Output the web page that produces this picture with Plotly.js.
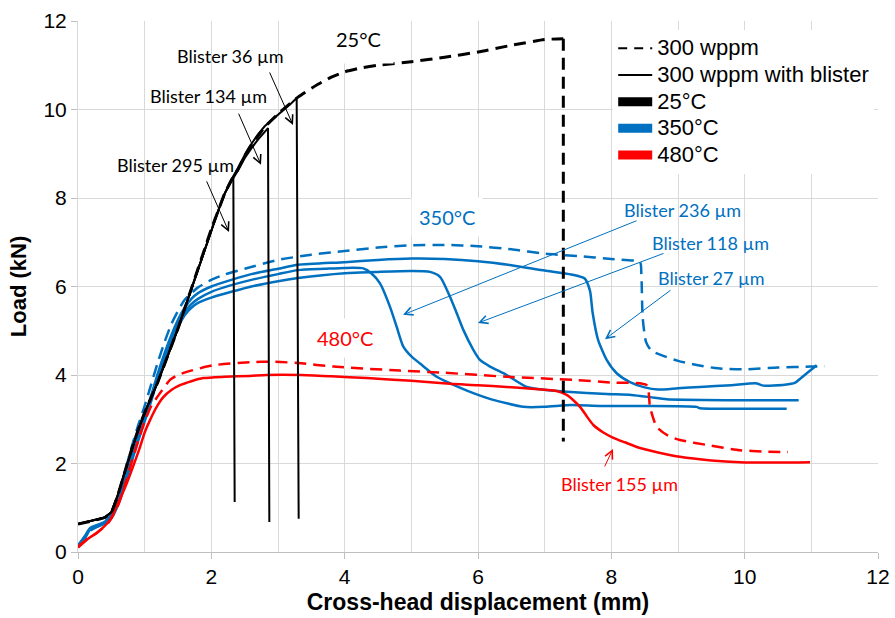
<!DOCTYPE html>
<html>
<head>
<meta charset="utf-8">
<script src="https://cdn.plot.ly/plotly-3.0.1.min.js"></script>
<style>html,body{margin:0;padding:0;background:#fff;}#chart{width:895px;height:618px;}</style>
</head>
<body>
<div id="chart"></div>
<script>
// ---- 25°C, 300 wppm (dashed) ----
const x25 = [0, 0.2, 0.4, 0.5, 0.6, 0.7, 0.8, 0.9, 1.0, 1.1, 1.2, 1.3, 1.4, 1.5, 1.6, 1.7, 1.8, 1.9, 2.0, 2.1, 2.2, 2.3, 2.4, 2.5, 2.6, 2.7, 2.8, 3.0, 3.3, 3.6, 3.8, 4.0, 4.25, 4.5, 5.0, 5.5, 6.0, 6.5, 7.0, 7.28];
const y25 = [0.63, 0.7, 0.78, 0.9, 1.3, 1.8, 2.3, 2.75, 3.15, 3.5, 3.85, 4.25, 4.65, 5.05, 5.5, 5.95, 6.4, 6.85, 7.3, 7.7, 8.1, 8.4, 8.65, 8.95, 9.2, 9.4, 9.6, 9.9, 10.28, 10.57, 10.73, 10.85, 10.94, 11.0, 11.08, 11.18, 11.3, 11.45, 11.58, 11.6];
const x25drop = [7.28, 7.28];
const y25drop = [11.6, 2.5];
// ---- 25°C with blister ----
const x25b295 = [0, 0.2, 0.4, 0.5, 0.6, 0.7, 0.8, 0.9, 1.0, 1.1, 1.2, 1.3, 1.4, 1.5, 1.6, 1.7, 1.8, 1.9, 2.0, 2.1, 2.2, 2.33, 2.35];
const y25b295 = [0.63, 0.7, 0.78, 0.9, 1.3, 1.8, 2.3, 2.75, 3.15, 3.5, 3.85, 4.25, 4.65, 5.05, 5.5, 5.95, 6.4, 6.85, 7.3, 7.7, 8.1, 8.47, 1.13];
const x25b134 = [0, 0.2, 0.4, 0.5, 0.6, 0.7, 0.8, 0.9, 1.0, 1.1, 1.2, 1.3, 1.4, 1.5, 1.6, 1.7, 1.8, 1.9, 2.0, 2.1, 2.2, 2.3, 2.4, 2.5, 2.6, 2.7, 2.85, 2.87];
const y25b134 = [0.63, 0.7, 0.78, 0.9, 1.3, 1.8, 2.3, 2.75, 3.15, 3.5, 3.85, 4.25, 4.65, 5.05, 5.5, 5.95, 6.4, 6.85, 7.3, 7.7, 8.1, 8.38, 8.62, 8.9, 9.12, 9.32, 9.58, 0.68];
const x25b36 = [0, 0.2, 0.4, 0.5, 0.6, 0.7, 0.8, 0.9, 1.0, 1.1, 1.2, 1.3, 1.4, 1.5, 1.6, 1.7, 1.8, 1.9, 2.0, 2.1, 2.2, 2.3, 2.4, 2.5, 2.6, 2.7, 2.8, 2.9, 3.0, 3.1, 3.2, 3.28, 3.31];
const y25b36 = [0.63, 0.7, 0.78, 0.9, 1.3, 1.8, 2.3, 2.75, 3.15, 3.5, 3.85, 4.25, 4.65, 5.05, 5.5, 5.95, 6.4, 6.85, 7.3, 7.7, 8.1, 8.42, 8.68, 8.97, 9.22, 9.44, 9.62, 9.75, 9.88, 10.0, 10.14, 10.26, 0.75];

// ---- 350°C, 300 wppm (dashed) ----
const x350 = [0, 0.1, 0.2, 0.35, 0.5, 0.6, 0.7, 0.8, 0.9, 1.0, 1.1, 1.2, 1.3, 1.4, 1.5, 1.6, 1.7, 1.8, 2.0, 2.2, 2.5, 3.0, 3.5, 4.0, 4.5, 5.0, 5.5, 6.0, 6.5, 7.0, 7.5, 8.0, 8.43, 8.45, 8.47, 8.52, 8.6, 8.8, 9.0, 9.3, 9.6, 10.0, 10.5, 11.0, 11.2];
const y350 = [0.15, 0.35, 0.5, 0.62, 0.85, 1.25, 1.8, 2.35, 2.85, 3.3, 3.8, 4.3, 4.75, 5.15, 5.45, 5.7, 5.85, 5.98, 6.15, 6.27, 6.4, 6.6, 6.72, 6.8, 6.88, 6.93, 6.94, 6.91, 6.84, 6.74, 6.69, 6.62, 6.55, 6.3, 5.3, 4.75, 4.55, 4.42, 4.32, 4.22, 4.15, 4.13, 4.17, 4.19, 4.2];
// ---- 350°C with blister ----
const x350b27 = [0, 0.1, 0.18, 0.3, 0.4, 0.5, 0.6, 0.7, 0.8, 0.9, 1.0, 1.1, 1.2, 1.3, 1.4, 1.5, 1.6, 1.7, 1.8, 2.0, 2.3, 2.6, 3.0, 3.3, 4.0, 4.5, 5.0, 5.5, 6.0, 6.5, 7.0, 7.4, 7.6, 7.68, 7.72, 7.8, 7.93, 8.08, 8.28, 8.5, 8.7, 9.0, 9.33, 9.8, 10.18, 10.28, 10.6, 10.75, 10.9, 11.08];
const y350b27 = [0.12, 0.35, 0.54, 0.62, 0.68, 0.82, 1.15, 1.62, 2.15, 2.62, 3.05, 3.55, 4.05, 4.5, 4.9, 5.25, 5.52, 5.72, 5.85, 6.0, 6.15, 6.28, 6.4, 6.49, 6.55, 6.6, 6.63, 6.62, 6.57, 6.48, 6.36, 6.27, 6.18, 5.9, 5.4, 4.8, 4.34, 4.04, 3.84, 3.72, 3.67, 3.7, 3.73, 3.77, 3.81, 3.76, 3.78, 3.82, 4.0, 4.22];
const x350b236 = [0, 0.1, 0.18, 0.3, 0.4, 0.5, 0.6, 0.7, 0.8, 0.9, 1.0, 1.1, 1.2, 1.3, 1.4, 1.5, 1.6, 1.7, 1.8, 2.0, 2.3, 2.6, 3.0, 3.3, 3.7, 4.0, 4.28, 4.4, 4.53, 4.68, 4.78, 4.88, 5.0, 5.13, 5.38, 5.6, 5.93, 6.2, 6.43, 6.68, 7.0, 7.4, 7.83, 8.5, 9.28, 9.33, 10.0, 10.63];
const y350b236 = [0.12, 0.33, 0.52, 0.6, 0.66, 0.8, 1.12, 1.58, 2.1, 2.58, 3.02, 3.5, 4.0, 4.45, 4.82, 5.15, 5.42, 5.6, 5.72, 5.88, 6.03, 6.15, 6.28, 6.37, 6.4, 6.42, 6.41, 6.3, 6.07, 5.54, 5.09, 4.64, 4.42, 4.26, 3.96, 3.8, 3.59, 3.45, 3.36, 3.28, 3.28, 3.32, 3.3, 3.3, 3.28, 3.25, 3.24, 3.24];
const x350b118 = [0, 0.1, 0.18, 0.3, 0.4, 0.5, 0.6, 0.7, 0.8, 0.9, 1.0, 1.1, 1.2, 1.3, 1.4, 1.5, 1.6, 1.7, 1.8, 2.0, 2.3, 2.6, 3.0, 3.3, 4.0, 4.5, 5.0, 5.28, 5.43, 5.58, 5.68, 5.78, 5.93, 6.03, 6.18, 6.43, 6.73, 7.03, 7.33, 7.93, 8.3, 8.58, 8.83, 9.83, 10.81];
const y350b118 = [0.12, 0.3, 0.5, 0.58, 0.64, 0.76, 1.06, 1.5, 2.02, 2.5, 2.95, 3.42, 3.92, 4.38, 4.75, 5.08, 5.35, 5.52, 5.63, 5.75, 5.88, 6.0, 6.12, 6.19, 6.3, 6.33, 6.35, 6.33, 6.22, 5.77, 5.4, 5.02, 4.57, 4.34, 4.19, 4.0, 3.73, 3.66, 3.62, 3.57, 3.55, 3.5, 3.45, 3.43, 3.43];

// ---- 480°C, 300 wppm (dashed) ----
const x480 = [0, 0.15, 0.3, 0.45, 0.6, 0.7, 0.8, 0.9, 1.0, 1.1, 1.23, 1.38, 1.5, 1.63, 2.03, 2.58, 2.93, 3.3, 3.83, 4.83, 5.5, 6.43, 7.43, 8.0, 8.53, 8.58, 8.68, 8.85, 9.03, 9.43, 9.93, 10.3, 10.65];
const y480 = [0.12, 0.3, 0.45, 0.65, 1.05, 1.5, 2.0, 2.5, 2.95, 3.3, 3.59, 3.89, 4.0, 4.07, 4.22, 4.29, 4.3, 4.27, 4.19, 4.1, 4.05, 3.96, 3.89, 3.83, 3.77, 3.28, 2.83, 2.63, 2.53, 2.42, 2.3, 2.27, 2.26];
// ---- 480°C with blister ----
const x480b155 = [0, 0.15, 0.28, 0.48, 0.6, 0.73, 0.83, 0.93, 1.0, 1.08, 1.18, 1.28, 1.4, 1.53, 1.7, 1.88, 2.2, 2.58, 2.83, 3.33, 3.8, 4.33, 5.0, 5.58, 6.0, 6.43, 6.9, 7.18, 7.33, 7.43, 7.53, 7.63, 7.73, 7.88, 8.03, 8.2, 8.43, 8.7, 9.03, 9.5, 9.93, 10.5, 10.98];
const y480b155 = [0.1, 0.3, 0.43, 0.72, 1.1, 1.55, 1.95, 2.37, 2.7, 2.98, 3.28, 3.5, 3.66, 3.77, 3.86, 3.93, 3.96, 3.98, 4.0, 4.0, 3.97, 3.93, 3.87, 3.8, 3.77, 3.73, 3.68, 3.64, 3.55, 3.43, 3.28, 3.07, 2.87, 2.7, 2.58, 2.48, 2.35, 2.25, 2.15, 2.07, 2.03, 2.02, 2.03];

const legendNames = ['300 wppm', '300 wppm with blister', '25°C', '350°C', '480°C'];
const xTicks = [0, 2, 4, 6, 8, 10, 12];
const yTicks = [0, 2, 4, 6, 8, 10, 12];

const BLACK = '#000000', BLUE = '#0070C0', RED = '#FF0000';
const DASH = '12px,7px';

function line(x, y, color, width, dash) {
  return {x: x, y: y, type: 'scatter', mode: 'lines', showlegend: false, hoverinfo: 'skip',
          line: {color: color, width: width, dash: dash || 'solid', shape: 'spline', smoothing: 0.6}};
}
function straight(x, y, color, width, dash) {
  const t = line(x, y, color, width, dash); t.line.shape = 'linear'; return t;
}
function legendEntry(name, color, width, dash) {
  return {x: [null], y: [null], type: 'scatter', mode: 'lines',
          name: '<span style="font-size:22px">' + name + '</span>',
          line: {color: color, width: width, dash: dash || 'solid'}};
}

const traces = [
  line(x350, y350, BLUE, 2.5, DASH),
  line(x350b118, y350b118, BLUE, 2.5),
  line(x350b236, y350b236, BLUE, 2.5),
  line(x350b27, y350b27, BLUE, 2.5),
  line(x480, y480, RED, 2.5, DASH),
  line(x480b155, y480b155, RED, 2.5),
  straight(x25b295, y25b295, BLACK, 2),
  straight(x25b134, y25b134, BLACK, 2),
  straight(x25b36, y25b36, BLACK, 2),
  line(x25, y25, BLACK, 3, DASH),
  straight(x25drop, y25drop, BLACK, 3, DASH),
  legendEntry(legendNames[0], BLACK, 2, '9px,7px'),
  legendEntry(legendNames[1], BLACK, 2),
  legendEntry(legendNames[2], BLACK, 9),
  legendEntry(legendNames[3], BLUE, 9),
  legendEntry(legendNames[4], RED, 9)
];

const annFont = 'Lato, Carlito, Calibri, sans-serif';
function label(x, y, text, color, size, bg, pad) {
  return {x: x, y: y, xref: 'x', yref: 'y', text: text, showarrow: false,
          font: {family: annFont, size: size, color: color},
          bgcolor: bg ? '#ffffff' : 'rgba(0,0,0,0)', borderpad: pad || 1, xanchor: 'center', yanchor: 'middle'};
}
function arrow(tx, ty, hx, hy, color) {
  return {x: hx, y: hy, ax: tx, ay: ty, xref: 'x', yref: 'y', axref: 'x', ayref: 'y', text: '',
          showarrow: true, arrowhead: 5, arrowsize: 1.6, arrowwidth: 1, arrowcolor: color, standoff: 0, startstandoff: 0};
}

const annotations = [
  label(4.2, 11.6, '25°C', BLACK, 20, true, 12),
  label(2.28, 11.21, 'Blister 36 µm', BLACK, 18),
  label(1.95, 10.3, 'Blister 134 µm', BLACK, 18),
  label(1.455, 8.75, 'Blister 295 µm', BLACK, 18),
  label(5.535, 7.57, '350°C', BLUE, 20, true, 7),
  label(4.0, 4.84, '480°C', RED, 20, true, 7),
  label(9.06, 7.73, 'Blister 236 µm', BLUE, 18),
  label(9.48, 6.98, 'Blister 118 µm', BLUE, 18),
  label(9.495, 6.19, 'Blister 27 µm', BLUE, 18),
  label(8.115, 1.54, 'Blister 155 µm', RED, 18),
  arrow(2.865, 10.87, 3.225, 9.65, BLACK),
  arrow(2.4, 9.94, 2.745, 8.75, BLACK),
  arrow(1.92, 8.41, 2.265, 7.23, BLACK),
  arrow(8.4, 7.5, 4.875, 5.36, BLUE),
  arrow(8.805, 6.76, 6.0, 5.175, BLUE),
  arrow(8.91, 5.94, 7.905, 4.81, BLUE),
  arrow(7.89, 1.9, 8.025, 2.33, RED)
];

const GRID = '#d9d9d9';
const axisFont = {family: 'Liberation Sans, Arial, sans-serif', size: 21, color: '#000'};
const layout = {
  width: 895, height: 618,
  margin: {l: 78, r: 17, t: 21, b: 66, pad: 0},
  paper_bgcolor: '#fff', plot_bgcolor: '#fff',
  showlegend: true,
  legend: {x: 0.669, y: 0.983, xanchor: 'left', yanchor: 'top', bgcolor: '#fff', borderwidth: 0,
           font: {family: 'Liberation Sans, Arial, sans-serif', size: 18.2, color: '#000'},
           itemwidth: 34, tracegroupgap: 0, traceorder: 'normal'},
  xaxis: {range: [0, 12], tickvals: xTicks, ticktext: xTicks.map(String), showgrid: true, gridcolor: GRID, gridwidth: 1,
          minor: {dtick: 1, showgrid: true, gridcolor: GRID, gridwidth: 1, ticks: ''},
          zeroline: false, showline: true, linecolor: '#bfbfbf', linewidth: 1, mirror: false,
          ticks: 'outside', ticklen: 6, tickcolor: '#bfbfbf', tickfont: axisFont,
          title: {text: '<b>Cross-head displacement (mm)</b>', font: {family: 'Liberation Sans, Arial, sans-serif', size: 23, color: '#000'}, standoff: 6}},
  yaxis: {range: [0, 12], tickvals: yTicks, ticktext: yTicks.map(String), showgrid: true, gridcolor: GRID, gridwidth: 1,
          zeroline: false, showline: true, linecolor: '#d9d9d9', linewidth: 1,
          ticks: 'outside', ticklen: 6, tickcolor: '#bfbfbf', tickfont: axisFont,
          title: {text: '<b>Load (kN)</b>', font: {family: 'Liberation Sans, Arial, sans-serif', size: 22, color: '#000'}, standoff: 10}},
  annotations: annotations
};

Plotly.newPlot('chart', traces, layout, {staticPlot: true, displayModeBar: false});
</script>
</body>
</html>
